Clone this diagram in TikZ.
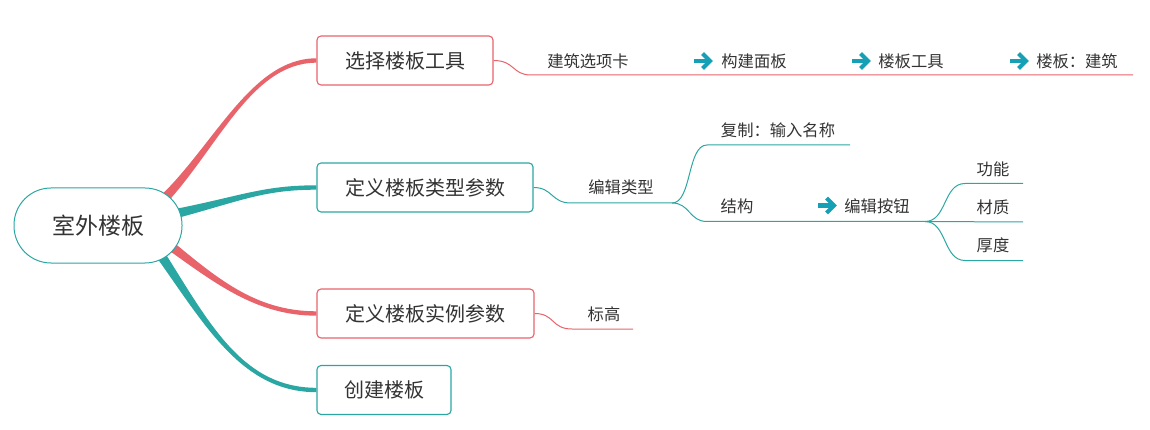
\documentclass[tikz,border=0pt]{standalone}
\usepackage{fontspec}
\setmainfont{Noto Sans CJK SC}
\usetikzlibrary{calc,backgrounds}
\definecolor{cred}{HTML}{E8636A}
\definecolor{cteal}{HTML}{2BA7A3}
\definecolor{carrow}{HTML}{16A0B5}
\definecolor{ctext}{HTML}{333333}
\tikzset{
  mainbox/.style={draw, line width=1.1pt, rounded corners=4pt, minimum height=49pt, inner sep=0pt, font=\fontsize{20}{24}\selectfont, text=ctext, fill=white},
  lab/.style={font=\fontsize{16.3}{19}\selectfont, text=ctext, inner sep=0pt},
  subline/.style={line width=1pt},
  arrowicon/.pic={
    \draw[carrow, line width=4.4pt] (-9,0) -- (5,0);
    \draw[carrow, line width=4.2pt, line join=miter] (-0.5,-7.5) -- (7,0) -- (-0.5,7.5);
  }
}
\newcommand\taper[7]{%
  \fill[#1] ($(#2)+(#3,#4)$) .. controls ($#5+0.5*(#3,#4)$) and ($#6+(0,-2.2)$) .. ($(#7)+(0,-2.2)$)
    -- ($(#7)+(0,2.2)$) .. controls ($#6+(0,2.2)$) and ($#5-0.5*(#3,#4)$) .. ($(#2)-(#3,#4)$) -- cycle;}
\begin{document}
\begin{tikzpicture}[x=1pt,y=-1pt]
\useasboundingbox (0,0) rectangle (1150,430);
% nodes
\node[draw=cteal, line width=1pt, rounded corners=37pt, minimum width=168pt, minimum height=75pt, inner sep=0pt, fill=white, text=ctext, font=\fontsize{23}{28}\selectfont] (root) at (98,225.5) {室外楼板};
\node[mainbox, draw=cred, minimum width=176pt] (n1) at (405,60.5) {选择楼板工具};
\node[mainbox, draw=cteal, minimum width=216pt] (n2) at (425,187.5) {定义楼板类型参数};
\node[mainbox, draw=cred, minimum width=217pt] (n3) at (425.5,313.5) {定义楼板实例参数};
\node[mainbox, draw=cteal, minimum width=134pt] (n4) at (384,390) {创建楼板};
% start coordinates inside root
\coordinate (s1) at (158,205);
\coordinate (s2) at (170,215);
\coordinate (s3) at (163,240);
\coordinate (s4) at (156,248);
\begin{pgfonlayer}{background}
\taper{cred}{s1}{-3.4}{-3.5}{(215,150)}{(250,60.5)}{n1.west}
\taper{cteal}{s2}{0}{-5}{(240,199)}{(262,187.5)}{n2.west}
\taper{cred}{s3}{3}{-4}{(215,280)}{(255,313.5)}{n3.west}
\taper{cteal}{s4}{4.1}{-2.8}{(205,320)}{(240,390)}{n4.west}
\end{pgfonlayer}
% branch 1
\coordinate (b1a) at (531,75);
\coordinate (b1b) at (1133,75);
\draw[cred, subline] (n1.east) .. controls (515,60.5) and (512,75) .. (b1a) -- (b1b);
\node[lab] (t11) at (588,61) {建筑选项卡};
\pic at (703,61) {arrowicon};
\node[lab] (t12) at (754,61) {构建面板};
\pic at (861,61) {arrowicon};
\node[lab] (t13) at (911,61) {楼板工具};
\pic at (1019,61) {arrowicon};
\node[lab] (t14) at (1077,61) {楼板：建筑};
% branch 2
\coordinate (b2a) at (571,203);
\coordinate (b2s) at (672,203);
\coordinate (b2ua) at (707,145);
\coordinate (b2ub) at (850,145);
\coordinate (b2da) at (707,221.5);
\coordinate (b2db) at (925,221.5);
\coordinate (b3ua) at (965,183.5);
\coordinate (b3ub) at (1023,183.5);
\coordinate (b3mb) at (1023,222);
\coordinate (b3da) at (965,260.5);
\coordinate (b3db) at (1023,260.5);
\draw[cteal, subline] (n2.east) .. controls (553,187.5) and (551,203) .. (b2a) -- (b2s);
\draw[cteal, subline] (b2s) .. controls (692,203) and (687,145) .. (b2ua) -- (b2ub);
\draw[cteal, subline] (b2s) .. controls (690,203) and (689,221.5) .. (b2da) -- (b2db);
\draw[cteal, subline] (b2db) .. controls (947,221.5) and (943,183.5) .. (b3ua) -- (b3ub);
\draw[cteal, subline] (b2db) -- (b3mb);
\draw[cteal, subline] (b2db) .. controls (947,221.5) and (943,260.5) .. (b3da) -- (b3db);
\node[lab] (t21) at (621,187) {编辑类型};
\node[lab] (t22) at (778,130) {复制：输入名称};
\node[lab] (t23) at (737,206) {结构};
\pic at (827,205.5) {arrowicon};
\node[lab] (t24) at (877,206) {编辑按钮};
\node[lab] (t25) at (993,169) {功能};
\node[lab] (t26) at (993,207) {材质};
\node[lab] (t27) at (993,245) {厚度};
% branch 3
\coordinate (b4a) at (572,329);
\coordinate (b4b) at (633,329);
\draw[cred, subline] (n3.east) .. controls (555,313.5) and (551,329) .. (b4a) -- (b4b);
\node[lab] (t31) at (604,314) {标高};
\end{tikzpicture}
\end{document}
